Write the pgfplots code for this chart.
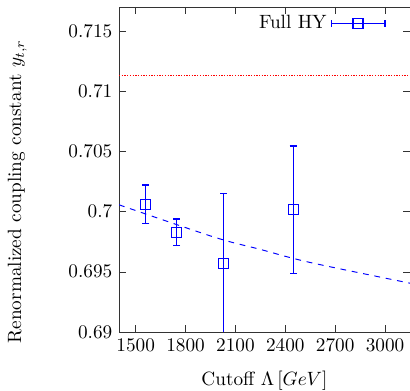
\documentclass[border=0pt]{standalone}
\usepackage{pgfplots}
\pgfplotsset{compat=1.18}
\pgfplotstableread{
x y e
1561 0.70060 0.0016
1747 0.69828 0.0011
2030 0.69569 0.0058
2447 0.70014 0.0053
}\hydata
\pgfplotstableread{
x y
1400 0.70056
1976 0.69786
2246 0.69687
2546 0.69578
3146 0.69406
3150 0.69405
}\fitdata
\definecolor{gpblue}{RGB}{0,0,255}
\definecolor{gpred}{RGB}{255,0,0}
\begin{document}
\begin{tikzpicture}
\begin{axis}[
  at={(0,0)}, anchor=south west,
  scale only axis, width=151.3pt, height=169pt,
  xmin=1400, xmax=3150, ymin=0.69, ymax=0.717,
  xtick={1500,1800,2100,2400,2700,3000},
  ytick={0.69,0.695,0.7,0.705,0.71,0.715},
  xticklabel style={/pgf/number format/.cd, 1000 sep={}},
  yticklabel style={/pgf/number format/.cd, fixed, precision=3},
  tick align=inside, major tick length=3.5pt,
  axis line style={black!80},
  tick style={black!80},
  xlabel={Cutoff $\Lambda\,[GeV]$},
  xlabel style={yshift=-3.5pt},
  ylabel={Renormalized coupling constant $y_{t,r}$},
  ylabel style={at={(axis description cs:-0.35,0.432)}, anchor=center},
  legend plot pos=right,
  legend style={draw=none, fill=none, at={(0.937,1.0)}, anchor=north east},
  legend image code/.code={
    \draw[gpblue, line width=0.6pt] (0pt,0pt) -- (28pt,0pt);
    \draw[gpblue, line width=0.6pt] (0pt,-1.8pt) -- (0pt,1.8pt);
    \draw[gpblue, line width=0.6pt] (28pt,-1.8pt) -- (28pt,1.8pt);
    \draw[gpblue, line width=0.6pt] (11.4pt,-2.6pt) rectangle (16.6pt,2.6pt);
  },
]
\addplot[gpred, line width=0.6pt, dash pattern=on 0.7pt off 0.7pt, forget plot] coordinates {(1400,0.7113) (3150,0.7113)};
\addplot[gpblue, dashed, smooth, line width=0.5pt, forget plot] table[x=x,y=y] {\fitdata};
\addplot[gpblue, only marks, mark=square, mark size=2.6pt, mark options={line width=0.6pt},
  error bars/.cd, y dir=both, y explicit,
  error bar style={draw=gpblue, color=gpblue, line width=0.6pt},
  error mark options={draw=gpblue, color=gpblue, rotate=90, mark size=1.8pt, line width=0.6pt}]
  table[x=x, y=y, y error=e] {\hydata};
\addlegendentry{Full HY\hspace{3pt}}
\end{axis}
\pgfresetboundingbox
\path[use as bounding box] (-61.9pt,-30.7pt) rectangle (151.3pt,172.6pt);
\end{tikzpicture}
\end{document}
